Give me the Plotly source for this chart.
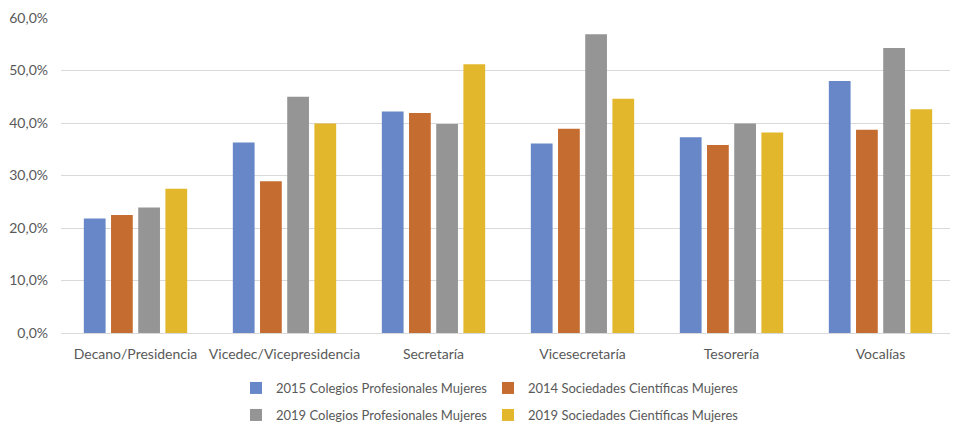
import plotly.graph_objects as go

categories = ["Decano/Presidencia", "Vicedec/Vicepresidencia", "Secretaría",
              "Vicesecretaría", "Tesorería", "Vocalías"]
series_names = ["2015 Colegios Profesionales Mujeres", "2014 Sociedades Científicas Mujeres",
                "2019 Colegios Profesionales Mujeres", "2019 Sociedades Científicas Mujeres"]
s2015_colegios = [21.8, 36.3, 42.2, 36.1, 37.3, 48.0]
s2014_sociedades = [22.5, 28.9, 41.9, 38.9, 35.8, 38.7]
s2019_colegios = [23.9, 45.0, 39.8, 56.9, 39.9, 54.3]
s2019_sociedades = [27.5, 39.9, 51.2, 44.6, 38.2, 42.6]
colors = ["#6787C8", "#C56C30", "#959595", "#E2B72B"]
tick_vals = [0, 10, 20, 30, 40, 50, 60]
tick_text = ["0,0%", "10,0%", "20,0%", "30,0%", "40,0%", "50,0%", "60,0%"]

# page body has an 8px margin, so the figure is 8px smaller each way
W, H = 950, 414
font_family = "Lato, 'Open Sans', sans-serif"
text_color = "#595959"
fig = go.Figure()
legends = ["legend", "legend", "legend2", "legend2"]
for name, vals, col, lg in zip(series_names,
                               [s2015_colegios, s2014_sociedades, s2019_colegios, s2019_sociedades],
                               colors, legends):
    fig.add_trace(go.Bar(x=categories, y=vals, name=name, marker_color=col,
                         marker_line_width=0, legend=lg))

legend_common = dict(orientation="h", xref="container", yref="container",
                     x=228 / W, xanchor="left", yanchor="middle",
                     entrywidth=207, entrywidthmode="pixels",
                     font=dict(family=font_family, size=13, color=text_color),
                     itemwidth=30, traceorder="normal", bgcolor="rgba(0,0,0,0)")

fig.update_layout(
    width=W, height=H,
    margin=dict(l=53, r=3, t=10, b=89, autoexpand=False),
    paper_bgcolor="white", plot_bgcolor="white",
    barmode="group", bargap=0.27, bargroupgap=0.2,
    font=dict(family=font_family, size=14, color=text_color),
    showlegend=True,
    legend=dict(legend_common, y=1 - 380 / H),
    legend2=dict(legend_common, y=1 - 407 / H),
)
fig.update_xaxes(showgrid=False, showline=True, linecolor="#D9D9D9", linewidth=1,
                 ticks="", automargin=False, ticklabelstandoff=8,
                 tickfont=dict(family=font_family, size=14, color=text_color))
fig.update_yaxes(range=[0, 60], tickvals=tick_vals, ticktext=tick_text,
                 showgrid=True, gridcolor="#D9D9D9", gridwidth=1, zeroline=False,
                 showline=False, ticks="", ticklabelstandoff=12, automargin=False,
                 tickfont=dict(family=font_family, size=14, color=text_color))
fig.write_html("out.html")
